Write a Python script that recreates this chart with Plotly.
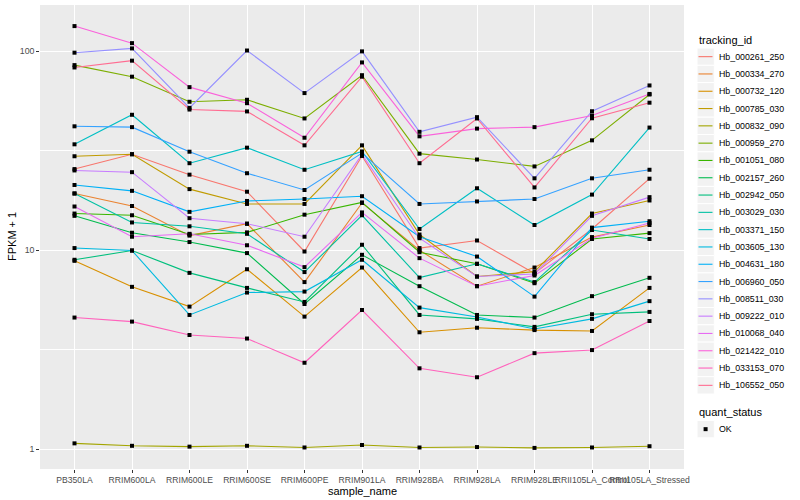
import numpy as np
import plotly.graph_objects as go

samples = ["PB350LA", "RRIM600LA", "RRIM600LE", "RRIM600SE", "RRIM600PE", "RRIM901LA",
           "RRIM928BA", "RRIM928LA", "RRIM928LE", "RRII105LA_Control", "RRII105LA_Stressed"]

tracking_ids = ["Hb_000261_250", "Hb_000334_270", "Hb_000732_120", "Hb_000785_030",
                "Hb_000832_090", "Hb_000959_270", "Hb_001051_080", "Hb_002157_260",
                "Hb_002942_050", "Hb_003029_030", "Hb_003371_150", "Hb_003605_130",
                "Hb_004631_180", "Hb_006960_050", "Hb_008511_030", "Hb_009222_010",
                "Hb_010068_040", "Hb_021422_010", "Hb_033153_070", "Hb_106552_050"]

colors = ["#F8766D", "#EA8331", "#D89000", "#C09B00", "#A3A500", "#7CAE00", "#39B600",
          "#00BB4E", "#00BF7D", "#00C1A3", "#00BFC4", "#00BAE0", "#00B0F6", "#35A2FF",
          "#9590FF", "#C77CFF", "#E76BF3", "#FA62DB", "#FF62BC", "#FF6C91"]

Hb_000261_250 = [25.6, 30.4, 24.0, 19.7, 9.86, 29.8, 10.26, 11.2, 7.65, 12.8, 22.9]
Hb_000334_270 = [19.3, 16.7, 11.85, 13.6, 6.92, 17.3, 10.0, 6.6, 8.19, 11.65, 13.4]
Hb_000732_120 = [8.85, 6.55, 5.21, 8.03, 4.64, 8.19, 3.87, 4.08, 3.97, 3.93, 6.47]
Hb_000785_030 = [29.7, 30.4, 20.3, 17.1, 17.1, 33.7, 12.0, 7.38, 7.81, 15.3, 17.8]
Hb_000832_090 = [1.07, 1.04, 1.03, 1.04, 1.02, 1.05, 1.02, 1.025, 1.015, 1.02, 1.035]
Hb_000959_270 = [85.3, 74.6, 55.8, 57.1, 46.0, 75.9, 30.6, 28.6, 26.4, 35.7, 60.7]
Hb_001051_080 = [15.3, 15.0, 12.0, 12.3, 15.1, 17.4, 9.78, 8.55, 6.83, 11.4, 12.2]
Hb_002157_260 = [14.9, 12.25, 11.0, 9.68, 5.37, 9.49, 6.6, 4.73, 4.59, 5.88, 7.27]
Hb_002942_050 = [8.96, 9.97, 7.7, 6.47, 5.5, 10.66, 4.73, 4.52, 4.12, 4.77, 4.9]
Hb_003029_030 = [19.3, 13.8, 13.2, 12.1, 7.77, 15.0, 7.29, 8.55, 6.92, 12.65, 11.4]
Hb_003371_150 = [34.1, 48.0, 27.4, 32.8, 25.4, 31.4, 12.8, 20.5, 13.4, 19.05, 41.4]
Hb_003605_130 = [10.26, 9.97, 4.73, 6.13, 6.2, 8.96, 5.15, 4.62, 4.02, 4.52, 5.55]
Hb_004631_180 = [21.3, 19.9, 15.6, 17.7, 18.1, 18.7, 11.7, 9.3, 5.85, 13.0, 14.0]
Hb_006960_050 = [42.0, 41.6, 31.3, 24.4, 20.1, 30.8, 17.1, 17.6, 18.1, 23.0, 25.4]
Hb_008511_030 = [98.5, 103.5, 52.0, 101.0, 61.7, 100.0, 39.4, 46.7, 23.0, 50.0, 67.4]
Hb_009222_010 = [25.2, 24.7, 14.5, 13.6, 11.7, 30.3, 11.5, 7.38, 7.6, 14.9, 18.5]
Hb_010068_040 = [16.6, 11.7, 12.1, 10.6, 8.23, 15.5, 9.13, 6.6, 7.47, 11.5, 13.7]
Hb_021422_010 = [134.0, 110.0, 66.1, 54.9, 36.8, 88.0, 37.4, 40.9, 41.6, 47.6, 61.1]
Hb_033153_070 = [4.59, 4.38, 3.75, 3.60, 2.72, 5.01, 2.55, 2.3, 3.04, 3.15, 4.41]
Hb_106552_050 = [83.0, 89.8, 51.0, 49.9, 33.7, 74.6, 27.4, 46.0, 20.7, 46.1, 55.2]

series = [Hb_000261_250, Hb_000334_270, Hb_000732_120, Hb_000785_030, Hb_000832_090,
          Hb_000959_270, Hb_001051_080, Hb_002157_260, Hb_002942_050, Hb_003029_030,
          Hb_003371_150, Hb_003605_130, Hb_004631_180, Hb_006960_050, Hb_008511_030,
          Hb_009222_010, Hb_010068_040, Hb_021422_010, Hb_033153_070, Hb_106552_050]

y_ticks = [1, 10, 100]
y_ticklabels = ["1", "10", "100"]

FONT = "Liberation Sans"
W, H = 800, 500
L, R, T, B = 40, 116, 5, 31
PW, PH = W - L - R, H - T - B

def px(xp):
    return (xp - L) / PW

def py(yp):
    return (H - B - yp) / PH

fig = go.Figure()
for tid, col, vals in zip(tracking_ids, colors, series):
    fig.add_trace(go.Scatter(x=samples, y=vals, mode="lines", name=tid,
                             line=dict(color=col, width=1.1), showlegend=False,
                             hoverinfo="skip"))

all_x = [s for vals in series for s in samples]
all_y = [v for vals in series for v in vals]
fig.add_trace(go.Scatter(x=all_x, y=all_y, mode="markers", name="OK",
                         marker=dict(symbol="square", size=4, color="black"),
                         showlegend=False))

logs = np.log10(all_y)
lo, hi = logs.min(), logs.max()
pad = 0.05 * (hi - lo)
yrange = [lo - pad, hi + pad]

# manual ggplot-style legend
shapes = []
annotations = []
annotations.append(dict(x=px(697), y=py(40), xref="paper", yref="paper", text="tracking_id",
                        showarrow=False, xanchor="left", yanchor="middle",
                        font=dict(family=FONT, size=11, color="black")))
key = 17.3
top0 = 48.0
for i, (tid, col) in enumerate(zip(tracking_ids, colors)):
    y0 = top0 + i * key
    yc = y0 + key / 2
    shapes.append(dict(type="rect", xref="paper", yref="paper", x0=px(697), x1=px(697 + key),
                       y0=py(y0 + key), y1=py(y0), fillcolor="#F2F2F2",
                       line=dict(color="white", width=1), layer="above"))
    shapes.append(dict(type="line", xref="paper", yref="paper", x0=px(698.5), x1=px(712.5),
                       y0=py(yc), y1=py(yc), line=dict(color=col, width=1.1), layer="above"))
    annotations.append(dict(x=px(716.5), y=py(yc), xref="paper", yref="paper", text=tid,
                            showarrow=False, xanchor="left", yanchor="middle",
                            font=dict(family=FONT, size=8.8, color="black")))

annotations.append(dict(x=px(697), y=py(412), xref="paper", yref="paper", text="quant_status",
                        showarrow=False, xanchor="left", yanchor="middle",
                        font=dict(family=FONT, size=11, color="black")))
ok0 = 420.5
shapes.append(dict(type="rect", xref="paper", yref="paper", x0=px(697), x1=px(697 + key),
                   y0=py(ok0 + key), y1=py(ok0), fillcolor="#F2F2F2",
                   line=dict(color="white", width=1), layer="above"))
okc = ok0 + key / 2
shapes.append(dict(type="rect", xref="paper", yref="paper", x0=px(703.6), x1=px(707.6),
                   y0=py(okc + 2), y1=py(okc - 2), fillcolor="black",
                   line=dict(width=0), layer="above"))
annotations.append(dict(x=px(716.5), y=py(okc), xref="paper", yref="paper", text="OK",
                        showarrow=False, xanchor="left", yanchor="middle",
                        font=dict(family=FONT, size=8.8, color="black")))

# axis titles
annotations.append(dict(x=0.5, y=py(491), xref="paper", yref="paper", text="sample_name",
                        showarrow=False, xanchor="center", yanchor="middle",
                        font=dict(family=FONT, size=11, color="black")))
annotations.append(dict(x=px(12), y=0.5, xref="paper", yref="paper", text="FPKM + 1",
                        showarrow=False, xanchor="center", yanchor="middle", textangle=-90,
                        font=dict(family=FONT, size=11, color="black")))

fig.update_layout(
    width=W, height=H,
    margin=dict(l=L, r=R, t=T, b=B, pad=0),
    paper_bgcolor="white", plot_bgcolor="#EBEBEB",
    font=dict(family=FONT, size=8.8, color="#4D4D4D"),
    showlegend=False,
    shapes=shapes, annotations=annotations,
    xaxis=dict(type="category", categoryorder="array", categoryarray=samples,
               range=[-0.6, len(samples) - 0.4], showgrid=True, gridcolor="white",
               gridwidth=1.07, zeroline=False, showline=False, ticks="outside",
               ticklen=2.75, tickwidth=1, tickcolor="#333333", tickangle=0,
               tickfont=dict(family=FONT, size=8.6, color="#4D4D4D"), fixedrange=True),
    yaxis=dict(type="log", range=yrange, tickmode="array", tickvals=y_ticks,
               ticktext=y_ticklabels, showgrid=True, gridcolor="white", gridwidth=1.07,
               zeroline=False, showline=False, ticks="outside", ticklen=2.75, tickwidth=1,
               tickcolor="#333333",
               tickfont=dict(family=FONT, size=8.8, color="#4D4D4D"),
               minor=dict(tickmode="array", tickvals=[10 ** 0.5, 10 ** 1.5], showgrid=True,
                          gridcolor="white", gridwidth=0.53, ticks=""),
               fixedrange=True),
)

fig.write_html("out.html", config={"displayModeBar": False},
               post_script="document.body.style.margin='0px';")
